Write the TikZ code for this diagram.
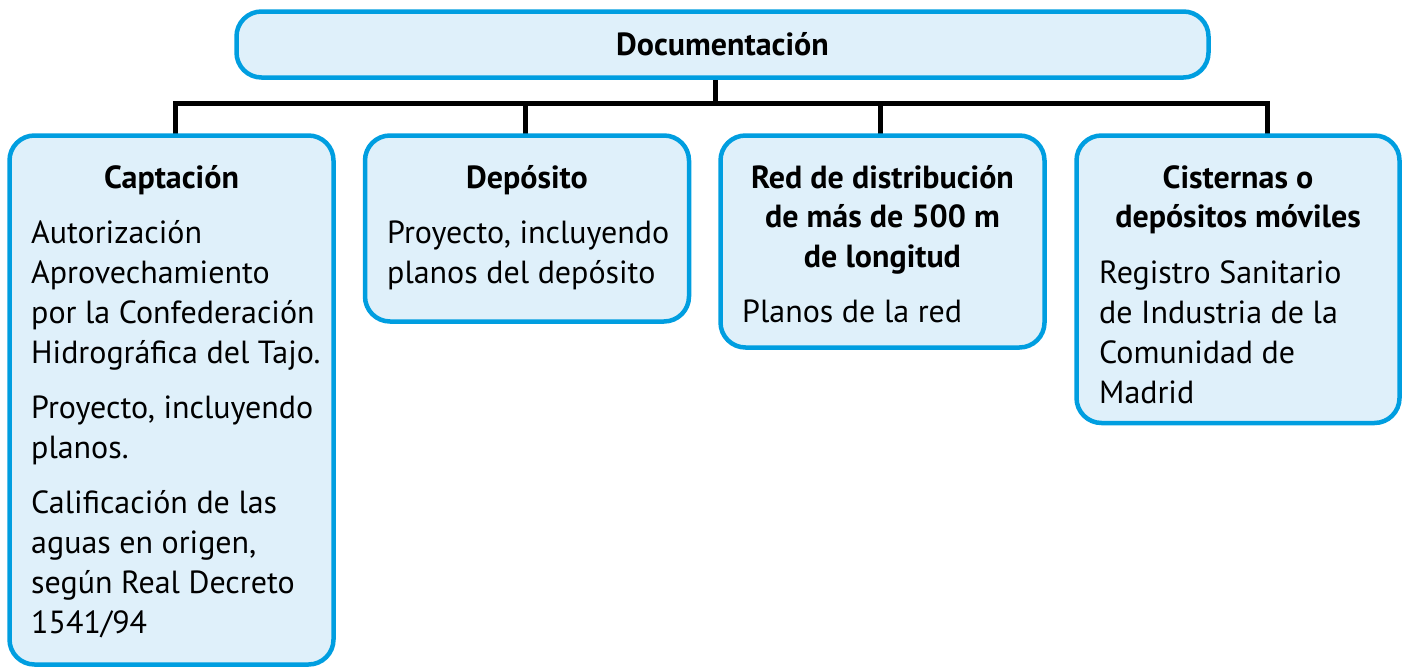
\documentclass[tikz,border=0pt]{standalone}
\usepackage{fontspec}
\setmainfont{PT Sans}
\usetikzlibrary{backgrounds}
\definecolor{bordeazul}{RGB}{0,158,224}
\definecolor{fondoazul}{RGB}{223,240,250}
\newcommand\tstr{\rule{0pt}{32pt}}
\tikzset{
  caja/.style={draw=bordeazul, fill=fondoazul, line width=4.5pt, rounded corners=25pt, inner sep=0pt, outer sep=0pt},
  titulo/.style={font=\fontsize{32}{39.5}\selectfont\bfseries, align=center, inner sep=0pt, anchor=north},
  cuerpo/.style={font=\fontsize{32}{40}\selectfont, align=left, inner sep=0pt, anchor=north west},
  conector/.style={draw=black, line width=5pt, line join=miter},
}
\begin{document}
\begin{tikzpicture}[x=1pt,y=-1pt]
\useasboundingbox (0,0) rectangle (1407,667);
\node[caja, minimum width=972pt, minimum height=66pt, font=\fontsize{32}{39.5}\selectfont\bfseries, text height=22pt, text depth=0pt] (doc) at (722.5,44.5) {Documentación};
\node[caja, anchor=north west, minimum width=324pt, minimum height=529pt] (cap) at (9.5,135.5) {};
\node[caja, anchor=north west, minimum width=324pt, minimum height=186pt] (dep) at (365,135.5) {};
\node[caja, anchor=north west, minimum width=324pt, minimum height=212pt] (red) at (720.5,135.5) {};
\node[caja, anchor=north west, minimum width=323pt, minimum height=287.5pt] (cis) at (1076.5,135.5) {};
\node[titulo] (tcap) at (171.5,156) {\tstr Captación};
\node[titulo] (tdep) at (527,156) {\tstr Depósito};
\node[titulo] (tred) at (882.5,156) {\tstr Red de distribución\\de más de 500 m\\de longitud};
\node[titulo] (tcis) at (1238,156) {\tstr Cisternas o\\depósitos móviles};
\node[cuerpo] (bcap) at (31,211) {\tstr Autorización\\Aprovechamiento\\por la Confederación\\Hidrográfica del Tajo.\\[15pt]Proyecto, incluyendo\\planos.\\[15pt]Calificación de las\\aguas en origen,\\según Real Decreto\\1541/94};
\node[cuerpo] (bdep) at (387,211) {\tstr Proyecto, incluyendo\\planos del depósito};
\node[cuerpo] (bred) at (742,290) {\tstr Planos de la red};
\node[cuerpo] (bcis) at (1099,251) {\tstr Registro Sanitario\\de Industria de la\\Comunidad de\\Madrid};
\coordinate (bus) at (715,103);
\coordinate (r1) at (175,103);
\coordinate (r2) at (525,103);
\coordinate (r3) at (880,103);
\coordinate (r4) at (1267,103);
\begin{scope}[on background layer]
\draw[conector] (doc.south -| bus) -- (bus);
\draw[conector] (r1 |- cap.north) -- (r1) -- (r4) -- (r4 |- cis.north);
\draw[conector] (r2) -- (r2 |- dep.north);
\draw[conector] (r3) -- (r3 |- red.north);
\end{scope}
\end{tikzpicture}
\end{document}
